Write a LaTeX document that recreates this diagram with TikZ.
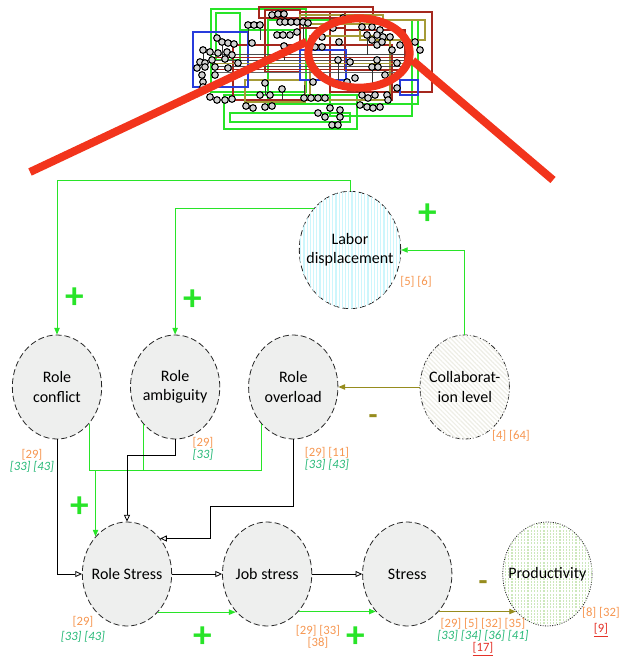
\documentclass[tikz,border=0pt]{standalone}
\usepackage{fontspec}
\setmainfont{Carlito}
\usetikzlibrary{positioning, arrows.meta, shapes.geometric, patterns.meta}

\definecolor{linegreen}{RGB}{40,228,40}
\definecolor{lineolive}{RGB}{150,140,30}
\definecolor{refor}{RGB}{246,150,80}
\definecolor{refgr}{RGB}{40,185,120}
\definecolor{refred}{RGB}{228,50,40}
\definecolor{zoomred}{RGB}{242,52,28}
\definecolor{nodegray}{RGB}{238,239,238}
\definecolor{cyanstripe}{RGB}{205,246,252}
\definecolor{greenstripe}{RGB}{205,232,188}
\definecolor{hatchgray}{RGB}{238,238,230}
\definecolor{thdred}{RGB}{165,40,30}
\definecolor{tholive}{RGB}{165,155,55}
\definecolor{thblue}{RGB}{40,60,220}

\begin{document}
\begin{tikzpicture}[x=0.75pt, y=-0.75pt,
  factor/.style={ellipse, draw=black!85, line width=0.6pt, dash pattern=on 4.5pt off 2.2pt,
                fill=nodegray, minimum width=67pt, minimum height=78pt, inner sep=0pt,
                inner xsep=-8pt, align=center, font=\fontsize{12}{14.5}\selectfont},
  striped/.style 2 args={fill=white,
                postaction={pattern={Lines[angle=#1, distance=2.4pt, line width=0.9pt]}, pattern color=#2}},
  arr/.style={-{Triangle[open, length=5pt, width=4.5pt]}, line width=0.6pt, black},
  garr/.style={-{Triangle[length=5pt, width=4pt]}, line width=0.7pt, linegreen},
  gline/.style={line width=0.7pt, linegreen},
  oarr/.style={-{Triangle[length=5pt, width=4pt]}, line width=0.7pt, lineolive},
  plus/.style={text=linegreen, font=\fontsize{28}{28}\selectfont\bfseries, inner sep=0pt},
  minus/.style={text=lineolive, font=\fontsize{22}{22}\selectfont\bfseries, inner sep=0pt},
  ref/.style={font=\fontsize{9.5}{9}\selectfont, align=center, inner sep=0pt},
]
\useasboundingbox (0,0) rectangle (621,657);

% Overview thumbnail
\foreach \ax/\ay/\bx/\by/\col in {211/9/306/92/linegreen, 216/13/240/60/linegreen,
    224/95/357/129/linegreen, 230/113/350/122/linegreen, 268/20/418/104/linegreen,
    330/20/412/116/linegreen, 240/30/300/45/linegreen,
    259/7/373/18/thdred, 265/10/300/72/thdred, 330/12/432/92/thdred, 300/12/345/28/thdred,
    233/45/392/100/thdred, 345/30/405/70/thdred,
    300/15/383/24/tholive, 310/36/390/100/tholive, 245/80/305/102/tholive, 360/20/425/40/tholive,
    193/32/248/87/thblue, 300/50/346/80/thblue, 400/80/418/95/thblue}
  \draw[\col, line width=0.8pt] (\ax,\ay) rectangle (\bx,\by);
\foreach \wy/\col in {54/black!70, 57/thdred, 60/black!70, 63/tholive, 66/black!70, 69/thdred, 72/black!60}
  \draw[\col, line width=0.6pt] (212,\wy) -- (405,\wy);
\foreach \ax/\ay/\bx/\by in {248/25/248/45, 260/25/260/40, 303/22/303/45, 284/46/284/60,
    265/83/265/95, 282/89/282/100, 304/98/304/85, 338/60/338/80, 372/67/372/88, 340/110/340/125,
    367/35/367/55, 222/42/222/62, 203/50/203/62}
  \draw[black!80, line width=0.6pt] (\ax,\ay) -- (\bx,\by);
\foreach \cx/\cy in {217/38, 222/42, 228/43, 234/44, 203/50, 210/52, 218/53, 227/52, 232/55,
    200/62, 205/63, 212/60, 225/59, 238/63, 197/68, 205/67, 215/67, 228/68, 202/75, 215/75,
    203/82, 203/87, 210/97, 217/100, 225/100, 232/99, 248/25, 254/25, 260/25, 252/43,
    272/15, 278/14, 284/14, 280/22, 285/22, 291/22, 297/22, 303/22, 308/23, 277/35, 283/35,
    290/35, 284/46, 297/32, 265/83, 282/89, 260/95, 270/95, 246/106, 253/108, 265/107, 272/106,
    343/18, 333/28, 362/27, 372/27, 380/30, 367/35, 377/35, 383/37, 372/40, 377/45, 382/42,
    390/37, 392/50, 400/45, 415/42, 420/50, 322/37, 339/42, 315/47, 322/47, 338/60, 350/62,
    377/60, 372/67, 378/67, 397/63, 385/75, 355/78, 347/82, 313/82, 304/98, 311/98, 318/98,
    325/98, 357/88, 362/95, 368/98, 375/95, 387/95, 397/88, 360/105, 367/107, 373/108,
    380/107, 388/100, 330/108, 340/110, 318/113, 325/117, 340/117, 332/125, 338/125}
  \draw[fill=gray!35, line width=0.8pt] (\cx,\cy) circle (2.5pt);

% Zoom marker
\node[ellipse, draw=zoomred, line width=6pt, minimum width=76pt, minimum height=52pt] (ring) at (359,53) {};
\coordinate (zl) at (30,172);
\coordinate (zr) at (553,180);
\draw[zoomred, line width=6pt] (zl) -- (ring.168);
\draw[zoomred, line width=6pt] (ring.-8) -- (zr);

% Top row
\node[factor] (conf) at (57,387) {Role\\conflict};
\node[factor, right=21pt of conf] (ambi) {Role\\ambiguity};
\node[factor, right=21pt of ambi] (over) {Role\\overload};
\node[factor, striped={-45}{hatchgray}, dash pattern=on 4pt off 1.5pt on 0.8pt off 1.5pt,
      right=61pt of over] (collab) {Collaborat-\\ion level};
\node[factor, striped={90}{cyanstripe}, minimum width=76pt, minimum height=88pt] (labor)
  at (350,250) {Labor\\displacement};

% Bottom row
\node[factor] (rs) at (127,574) {Role Stress};
\node[factor, right=37.5pt of rs] (js) {Job stress};
\node[factor, right=37.5pt of js] (st) {Stress};
\node[factor, striped={90}{greenstripe}, dash pattern=on 0.8pt off 1pt,
      right=37.5pt of st] (prod) {Productivity};

% Links from labor displacement
\draw[garr] (labor.north) -- ++(0,-10) -| (conf.north);
\draw[garr] (labor.131) -| (ambi.north);
\draw[garr] (collab.north) |- (labor.east);
\draw[oarr] (collab.west) -- (over.east);

% Links into role stress
\coordinate (gbus) at (0,470);
\draw[gline] (conf.-49) |- (over.-131 |- gbus) -- (over.-131);
\draw[gline] (ambi.-131) -- (ambi.-131 |- gbus);
\draw[garr] (rs.130 |- gbus) -- (rs.130);
\draw[arr] (conf.south) |- (rs.west);
\draw[arr] (ambi.south) -- ++(0,16) -| (rs.north);
\draw[arr] (over.south) |- ++(-83,67) |- (rs.47);

% Chain to productivity
\draw[arr] (rs.east) -- (js.west);
\draw[arr] (js.east) -- (st.west);
\draw[garr] (rs.-51) -- (rs.-51 -| js.-130);
\draw[garr] (js.-50) -- (js.-50 -| st.-130);
\draw[oarr] (st.-50) -- (st.-50 -| prod.-130);

% Signs
\node[plus] (p1) at (428,214) {+};
\node[plus] (p2) at (75,298) {+};
\node[plus] (p3) at (193,300) {+};
\node[plus] (p4) at (80,507) {+};
\node[plus] (p5) at (203,637) {+};
\node[plus] (p6) at (356,637) {+};
\node[minus] (n1) at (373,420) {-};
\node[minus] (n2) at (483,586) {-};

% References
\node[ref] (reflabor) at (416,282) {\textcolor{refor}{[5] [6]}};
\node[ref] (refcollab) at (511,436) {\textcolor{refor}{[4] [64]}};
\node[ref] (refconf) at (32,461) {\textcolor{refor}{[29]}\\\textcolor{refgr}{\itshape [33] [43]}};
\node[ref] (refambi) at (203,449) {\textcolor{refor}{[29]}\\\textcolor{refgr}{\itshape [33]}};
\node[ref] (refover) at (327,459) {\textcolor{refor}{[29] [11]}\\\textcolor{refgr}{\itshape [33] [43]}};
\node[ref] (refrs) at (83,629) {\textcolor{refor}{[29]}\\[2.5pt]\textcolor{refgr}{\itshape [33] [43]}};
\node[ref] (refjs) at (318,637) {\textcolor{refor}{[29] [33]}\\\textcolor{refor}{[38]}};
\node[ref] (refst) at (483,637) {\textcolor{refor}{[29] [5] [32] [35]}\\\textcolor{refgr}{\itshape [33] [34] [36] [41]}\\\textcolor{refred}{\underline{[17]}}};
\node[ref] (refprod) at (601,622) {\textcolor{refor}{[8] [32]}\\[3pt]\textcolor{refred}{\underline{[9]}}};

\end{tikzpicture}
\end{document}
